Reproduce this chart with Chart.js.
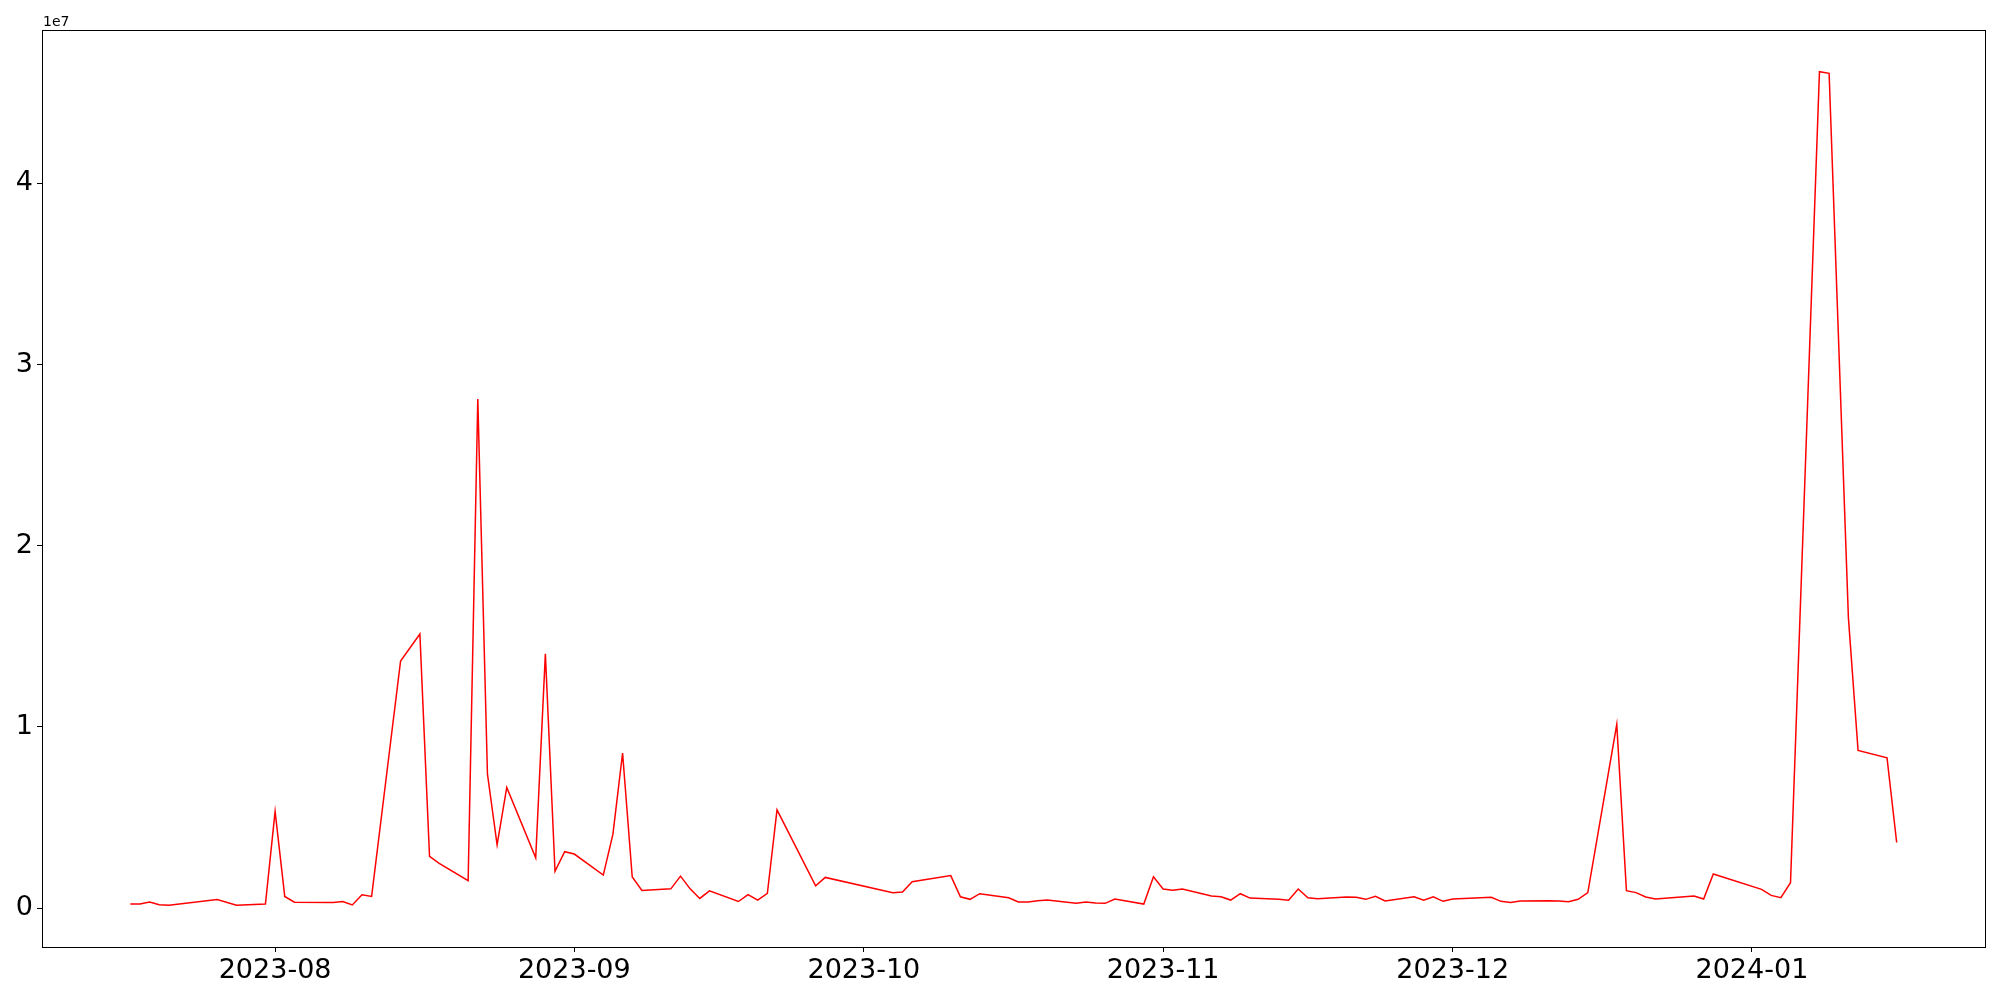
<!DOCTYPE html>
<html lang="en">
<head>
    <meta charset="UTF-8">
    <title>Daily series</title>
    <style>
        body {
            margin: 0;
            background: #ffffff;
        }
        #chart {
            display: block;
        }
    </style>
    <script src="https://cdn.jsdelivr.net/npm/chart.js"></script>
</head>
<body>
    <canvas id="chart" width="2000" height="1000"></canvas>

    <script>
        // dates (trading days)
        var dates = [
            '2023-07-17', '2023-07-18', '2023-07-19', '2023-07-20', '2023-07-21', '2023-07-26', '2023-07-28', '2023-07-31',
            '2023-08-01', '2023-08-02', '2023-08-03', '2023-08-07', '2023-08-08', '2023-08-09', '2023-08-10', '2023-08-11',
            '2023-08-14', '2023-08-16', '2023-08-17', '2023-08-18', '2023-08-21', '2023-08-22', '2023-08-23', '2023-08-24',
            '2023-08-25', '2023-08-28', '2023-08-29', '2023-08-30', '2023-08-31', '2023-09-01', '2023-09-04', '2023-09-05',
            '2023-09-06', '2023-09-07', '2023-09-08', '2023-09-11', '2023-09-12', '2023-09-13', '2023-09-14', '2023-09-15',
            '2023-09-18', '2023-09-19', '2023-09-20', '2023-09-21', '2023-09-22', '2023-09-26', '2023-09-27', '2023-10-04',
            '2023-10-05', '2023-10-06', '2023-10-10', '2023-10-11', '2023-10-12', '2023-10-13', '2023-10-16', '2023-10-17',
            '2023-10-18', '2023-10-19', '2023-10-20', '2023-10-23', '2023-10-24', '2023-10-25', '2023-10-26', '2023-10-27',
            '2023-10-30', '2023-10-31', '2023-11-01', '2023-11-02', '2023-11-03', '2023-11-06', '2023-11-07', '2023-11-08',
            '2023-11-09', '2023-11-10', '2023-11-13', '2023-11-14', '2023-11-15', '2023-11-16', '2023-11-17', '2023-11-20',
            '2023-11-21', '2023-11-22', '2023-11-23', '2023-11-24', '2023-11-27', '2023-11-28', '2023-11-29', '2023-11-30',
            '2023-12-01', '2023-12-05', '2023-12-06', '2023-12-07', '2023-12-08', '2023-12-11', '2023-12-12', '2023-12-13',
            '2023-12-14', '2023-12-15', '2023-12-18', '2023-12-19', '2023-12-20', '2023-12-21', '2023-12-22', '2023-12-26',
            '2023-12-27', '2023-12-28', '2024-01-02', '2024-01-03', '2024-01-04', '2024-01-05', '2024-01-08', '2024-01-09',
            '2024-01-11', '2024-01-12', '2024-01-15', '2024-01-16'
        ];

        var values = [
            220000, 220000, 330000, 180000, 160000, 470000, 150000, 220000,
            5330000, 640000, 320000, 310000, 360000, 170000, 730000, 640000,
            13640000, 15130000, 2850000, 2460000, 1510000, 28100000, 7400000, 3490000,
            6660000, 2770000, 14040000, 2030000, 3110000, 2980000, 1820000, 4080000,
            8560000, 1710000, 970000, 1060000, 1760000, 1060000, 530000, 950000,
            360000, 740000, 440000, 810000, 5420000, 1230000, 1690000, 850000,
            880000, 1450000, 1790000, 620000, 480000, 790000, 570000, 330000,
            330000, 400000, 440000, 260000, 330000, 280000, 260000, 500000,
            220000, 1730000, 1050000, 980000, 1050000, 660000, 620000, 440000,
            790000, 550000, 480000, 430000, 1050000, 570000, 510000, 610000,
            590000, 480000, 650000, 390000, 620000, 430000, 620000, 370000,
            500000, 590000, 370000, 310000, 390000, 400000, 390000, 350000,
            480000, 850000, 10140000, 960000, 850000, 610000, 500000, 660000,
            500000, 1880000, 1030000, 700000, 570000, 1400000, 46170000, 46080000,
            16020000, 8700000, 8290000, 3620000
        ];

        var monthTicks = ['2023-08-01', '2023-09-01', '2023-10-01', '2023-11-01', '2023-12-01', '2024-01-01'];
        var monthLabels = ['2023-08', '2023-09', '2023-10', '2023-11', '2023-12', '2024-01'];
        var yTicks = [0, 10000000, 20000000, 30000000, 40000000];
        var yLabels = ['0', '1', '2', '3', '4'];

        // day number from a yyyy-mm-dd string
        function dayNum(s) {
            var p = s.split('-');
            return Date.UTC(+p[0], +p[1] - 1, +p[2]) / 86400000;
        }

        var points = dates.map(function(d, i) {
            return { x: dayNum(d), y: values[i] };
        });
        var tickDays = monthTicks.map(dayNum);

        // matplotlib style 5% margins
        var xLo = points[0].x, xHi = points[points.length - 1].x;
        var yLo = Math.min.apply(null, values), yHi = Math.max.apply(null, values);
        var xPad = (xHi - xLo) * 0.05, yPad = (yHi - yLo) * 0.05;

        var boxPlugin = {
            id: 'box',
            afterDraw: function(chart) {
                var c = chart.ctx, a = chart.chartArea;
                c.save();
                c.strokeStyle = '#000000';
                c.lineWidth = 1;
                c.strokeRect(Math.round(a.left) + 0.5, Math.round(a.top) + 0.5,
                    Math.round(a.right - a.left), Math.round(a.bottom - a.top));
                c.fillStyle = '#000000';
                c.font = '14px "DejaVu Sans"';
                c.textBaseline = 'alphabetic';
                c.fillText('1e7', a.left + 1, a.top - 4);
                c.restore();
            }
        };

        new Chart(document.getElementById('chart').getContext('2d'), {
            type: 'line',
            data: {
                datasets: [{
                    data: points,
                    borderColor: '#ff0000',
                    borderWidth: 1.5,
                    pointRadius: 0,
                    tension: 0,
                    fill: false
                }]
            },
            options: {
                responsive: false,
                animation: false,
                layout: { padding: { top: 30, right: 15, left: 0, bottom: 0 } },
                plugins: {
                    legend: { display: false },
                    tooltip: { enabled: false }
                },
                scales: {
                    x: {
                        type: 'linear',
                        min: xLo - xPad,
                        max: xHi + xPad,
                        afterBuildTicks: function(scale) {
                            scale.ticks = tickDays.map(function(v) { return { value: v }; });
                        },
                        afterFit: function(scale) { scale.height = 53; },
                        border: { display: false },
                        grid: {
                            drawOnChartArea: false,
                            drawTicks: true,
                            tickLength: 5,
                            tickColor: '#000000',
                            tickWidth: 1
                        },
                        ticks: {
                            color: '#000000',
                            padding: 3,
                            maxRotation: 0,
                            autoSkip: false,
                            font: { family: '"DejaVu Sans"', size: 27 },
                            callback: function(v) {
                                var i = tickDays.indexOf(v);
                                return i >= 0 ? monthLabels[i] : '';
                            }
                        }
                    },
                    y: {
                        type: 'linear',
                        min: yLo - yPad,
                        max: yHi + yPad,
                        afterBuildTicks: function(scale) {
                            scale.ticks = yTicks.map(function(v) { return { value: v }; });
                        },
                        afterFit: function(scale) { scale.width = 42; },
                        border: { display: false },
                        grid: {
                            drawOnChartArea: false,
                            drawTicks: true,
                            tickLength: 5,
                            tickColor: '#000000',
                            tickWidth: 1
                        },
                        ticks: {
                            color: '#000000',
                            padding: 4,
                            font: { family: '"DejaVu Sans"', size: 27 },
                            callback: function(v) {
                                var i = yTicks.indexOf(v);
                                return i >= 0 ? yLabels[i] : '';
                            }
                        }
                    }
                }
            },
            plugins: [boxPlugin]
        });
    </script>
</body>
</html>
